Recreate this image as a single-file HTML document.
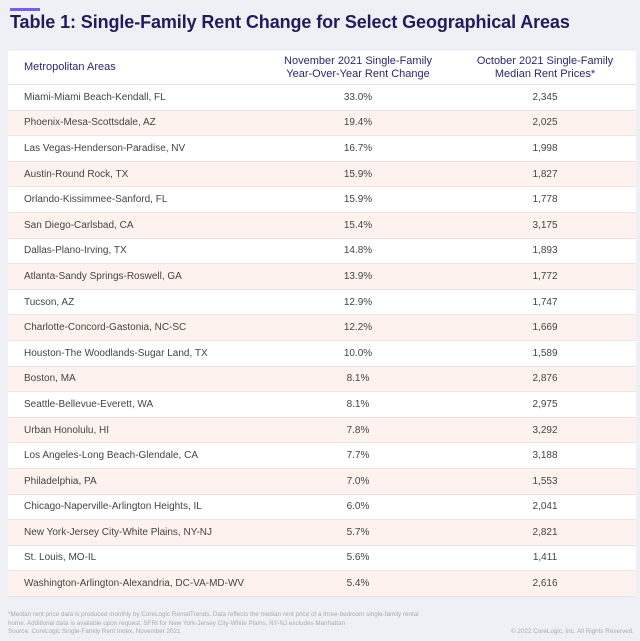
<!DOCTYPE html>
<html><head><meta charset="utf-8"><style>
body{margin:0;width:640px;height:641px;background:#eef0f5;font-family:"Liberation Sans",sans-serif;position:relative;overflow:hidden}
.bar{position:absolute;left:10px;top:8px;width:30px;height:3px;background:#7b5cf0}
h1{position:absolute;left:10px;top:12px;margin:0;font-size:18px;font-weight:bold;color:#1f1b5c;letter-spacing:-0.1px}
table{position:absolute;left:8px;top:51px;width:628px;border-collapse:collapse;background:#fff}
th{height:31px;font-weight:normal;color:#2a2870;font-size:11px;line-height:13px;border-bottom:1px solid #e3e3e8}
td{height:24.6px;padding:0;font-size:10px;color:#444;border-bottom:1px solid #ebe4e2}
tr:nth-child(even) td{background:#fdf2ee}
.n{padding-left:16px;text-align:left}
.c2{text-align:center;width:190px}
.c3{text-align:center;width:180px}
.foot{position:absolute;left:8px;font-size:6.3px;line-height:8.5px;color:#aaa}
</style></head><body>
<div class="bar"></div>
<h1>Table 1: Single-Family Rent Change for Select Geographical Areas</h1>
<table>
<thead><tr><th class="n">Metropolitan Areas</th><th class="c2">November 2021 Single-Family<br>Year-Over-Year Rent Change</th><th class="c3">October 2021 Single-Family<br>Median Rent Prices*</th></tr></thead>
<tbody id="tb"></tbody></table>
<div class="foot" style="top:611px">*Median rent price data is produced monthly by CoreLogic RentalTrends. Data reflects the median rent price of a three-bedroom single-family rental<br>home. Additional data is available upon request. SFRI for New York-Jersey City-White Plains, NY-NJ excludes Manhattan<br>Source: CoreLogic Single-Family Rent Index, November 2021</div>
<div class="foot" style="top:628px;left:auto;right:6px">© 2022 CoreLogic, Inc. All Rights Reserved.</div>
<script>
const areas=["Miami-Miami Beach-Kendall, FL","Phoenix-Mesa-Scottsdale, AZ","Las Vegas-Henderson-Paradise, NV","Austin-Round Rock, TX","Orlando-Kissimmee-Sanford, FL","San Diego-Carlsbad, CA","Dallas-Plano-Irving, TX","Atlanta-Sandy Springs-Roswell, GA","Tucson, AZ","Charlotte-Concord-Gastonia, NC-SC","Houston-The Woodlands-Sugar Land, TX","Boston, MA","Seattle-Bellevue-Everett, WA","Urban Honolulu, HI","Los Angeles-Long Beach-Glendale, CA","Philadelphia, PA","Chicago-Naperville-Arlington Heights, IL","New York-Jersey City-White Plains, NY-NJ","St. Louis, MO-IL","Washington-Arlington-Alexandria, DC-VA-MD-WV"];
const changes=["33.0%","19.4%","16.7%","15.9%","15.9%","15.4%","14.8%","13.9%","12.9%","12.2%","10.0%","8.1%","8.1%","7.8%","7.7%","7.0%","6.0%","5.7%","5.6%","5.4%"];
const rents=["2,345","2,025","1,998","1,827","1,778","3,175","1,893","1,772","1,747","1,669","1,589","2,876","2,975","3,292","3,188","1,553","2,041","2,821","1,411","2,616"];
const tb=document.getElementById('tb');
areas.forEach((a,i)=>{
 const tr=document.createElement('tr');
 
 
 [[a,'n'],[changes[i],'c2'],[rents[i],'c3']].forEach(([t,c])=>{
  const td=document.createElement('td');td.className=c;td.textContent=t;
  
  
  tr.appendChild(td);
 });
 tb.appendChild(tr);
});
</script>
</body></html>
